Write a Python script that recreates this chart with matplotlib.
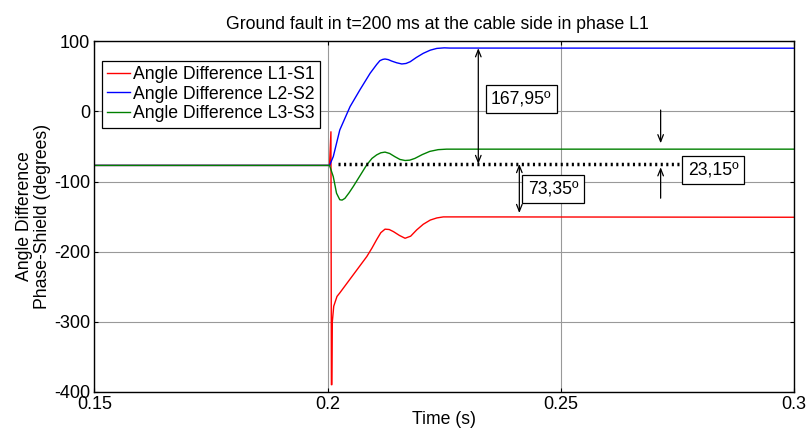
import matplotlib
matplotlib.use("Agg")
import matplotlib.pyplot as plt

plt.rcParams['font.family'] = ['Liberation Sans', 'DejaVu Sans']
plt.rcParams['axes.unicode_minus'] = False

# values (time in s, angle in degrees)
t_l1 = [0.150, 0.2004, 0.2007, 0.2008, 0.2009, 0.2010, 0.2013, 0.2020, 0.2026, 0.2055,
        0.2084, 0.2095, 0.2105, 0.2114, 0.2123, 0.2132, 0.2141, 0.2154, 0.2166, 0.2178,
        0.2191, 0.2205, 0.2220, 0.2234, 0.2248, 0.2300, 0.300]
a_l1 = [-77, -77, -29, -390, -390, -300, -278, -264, -259, -233,
        -207, -195, -183, -173, -168, -168.5, -171.5, -177, -181, -178,
        -169, -161, -155, -152, -150.5, -150.5, -151]

t_l2 = [0.150, 0.2004, 0.2012, 0.2026, 0.2048, 0.2069, 0.2091, 0.2105, 0.2112, 0.2118,
        0.2123, 0.2130, 0.2137, 0.2148, 0.2159, 0.2168, 0.2177, 0.2190, 0.2205, 0.2220,
        0.2234, 0.2250, 0.2262, 0.300]
a_l2 = [-77, -77, -64.5, -26.4, 6.9, 30.7, 54.5, 67, 72.5, 74.3,
        74.9, 74, 72, 69.5, 67.8, 68.5, 71, 77, 83, 87.5,
        90, 90.8, 90.5, 90.3]

t_l3 = [0.150, 0.2004, 0.2012, 0.2019, 0.2026, 0.2031, 0.2037, 0.2046, 0.2055, 0.2070,
        0.2084, 0.2095, 0.2105, 0.2114, 0.2123, 0.2133, 0.2144, 0.2155, 0.2166, 0.2176,
        0.2187, 0.2203, 0.2219, 0.2237, 0.2255, 0.300]
a_l3 = [-77, -77, -93, -116.7, -126, -126.5, -124, -116, -107, -91,
        -76, -67, -62, -59, -58, -60, -64.5, -68.5, -70, -69.5,
        -67, -61.5, -57, -54.5, -53.8, -53.8]

ref_level = -75
labels = ['Angle Difference L1-S1', 'Angle Difference L2-S2', 'Angle Difference L3-S3']

fig = plt.figure(figsize=(8.07, 4.30), dpi=100)
ax = fig.add_axes([0.1171, 0.0891, 0.8668, 0.8146])

ax.plot(t_l1, a_l1, color='#ff0000', lw=1.0, label=labels[0])
ax.plot(t_l2, a_l2, color='#0000ff', lw=1.0, label=labels[1])
ax.plot(t_l3, a_l3, color='#008000', lw=1.0, label=labels[2])

# dotted reference level
ax.plot([0.2022, 0.2756], [ref_level, ref_level], color='k', lw=2.5,
        linestyle=(0, (0.6, 1.0)))

arrow = dict(arrowstyle='<->,head_length=0.5,head_width=0.2', color='k', lw=0.9,
             shrinkA=0, shrinkB=0)
ax.annotate('', xy=(0.2323, 90.3), xytext=(0.2323, ref_level), arrowprops=arrow)
ax.annotate('', xy=(0.2411, -145), xytext=(0.2411, ref_level), arrowprops=arrow)
one = dict(arrowstyle='->,head_length=0.5,head_width=0.2', color='k', lw=0.9,
           shrinkA=0, shrinkB=0)
ax.annotate('', xy=(0.2714, -45.4), xytext=(0.2714, 2), arrowprops=one)
ax.annotate('', xy=(0.2714, -79.6), xytext=(0.2714, -123.8), arrowprops=one)

box = dict(boxstyle='square,pad=0.3', fc='white', ec='k', lw=0.9)
fs = 12.7
ax.text(0.2350, 18, '167,95º', fontsize=fs, ha='left', va='center', bbox=box)
ax.text(0.2429, -110.3, '73,35º', fontsize=fs, ha='left', va='center', bbox=box)
ax.text(0.2772, -83.5, '23,15º', fontsize=fs, ha='left', va='center', bbox=box)

ax.set_xlim(0.15, 0.3)
ax.set_ylim(-400, 100)
ax.set_xticks([0.15, 0.2, 0.25, 0.3])
ax.set_xticklabels(['0.15', '0.2', '0.25', '0.3'])
ax.set_yticks([-400, -300, -200, -100, 0, 100])
ax.tick_params(direction='in', length=3, labelsize=13, top=True, right=True, pad=3)
ax.grid(True, color='#999999', lw=0.8)
for s in ax.spines.values():
    s.set_linewidth(1.0)

ax.set_title('Ground fault in t=200 ms at the cable side in phase L1', fontsize=fs, pad=9,
             x=0.49)
ax.set_xlabel('Time (s)', fontsize=fs, labelpad=-1)
ax.set_ylabel('Angle Difference\nPhase-Shield (degrees)', fontsize=fs, labelpad=2,
              linespacing=1.1)

leg = ax.legend(loc='upper left', bbox_to_anchor=(0.0103, 0.945), fontsize=fs,
                handlelength=1.3, handletextpad=0.15, borderpad=0.3, labelspacing=0.15,
                fancybox=False, framealpha=1, edgecolor='k', borderaxespad=0)
leg.get_frame().set_linewidth(0.9)

fig.savefig('out.png', dpi=100)
